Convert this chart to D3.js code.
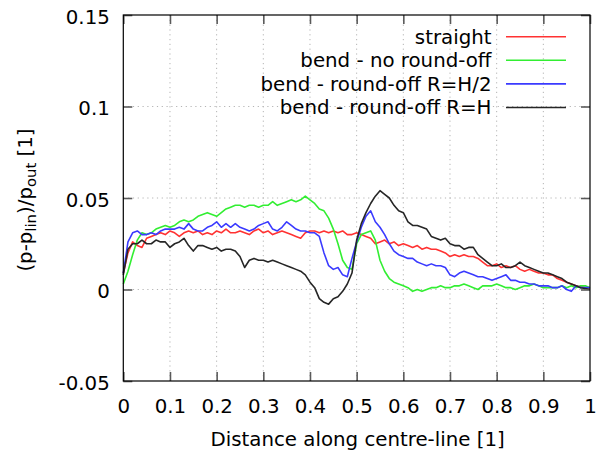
<!DOCTYPE html>
<html>
<head>
<meta charset="utf-8">
<script src="https://cdn.jsdelivr.net/npm/d3@7"></script>
<style>
  html, body { margin: 0; padding: 0; background: #fff; }
  svg { display: block; font-family: "DejaVu Sans", Verdana, sans-serif; }
</style>
</head>
<body>
<svg id="chart" width="603" height="453"></svg>
<script>
// Distance along centre-line, sampled every 0.01
const distance = d3.range(0, 101).map(i => i / 100);

const xTicks = [0, 0.1, 0.2, 0.3, 0.4, 0.5, 0.6, 0.7, 0.8, 0.9, 1];
const xTickLabels = ["0", "0.1", "0.2", "0.3", "0.4", "0.5", "0.6", "0.7", "0.8", "0.9", "1"];
const yTicks = [-0.05, 0, 0.05, 0.1, 0.15];
const yTickLabels = ["-0.05", "0", "0.05", "0.1", "0.15"];

const seriesNames = ["straight", "bend - no round-off", "bend - round-off R=H/2", "bend - round-off R=H"];
const seriesColors = ["#ff3232", "#32ee32", "#3a3aff", "#262626"];

const straight = [
  0.009, 0.020, 0.026, 0.024, 0.023, 0.028, 0.029, 0.030, 0.031, 0.030,
  0.032, 0.031, 0.029, 0.031, 0.032, 0.031, 0.032, 0.030, 0.031, 0.030,
  0.032, 0.031, 0.033, 0.031, 0.031, 0.032, 0.031, 0.030, 0.032, 0.033,
  0.031, 0.032, 0.030, 0.031, 0.032, 0.031, 0.030, 0.029, 0.028, 0.031,
  0.032, 0.032, 0.031, 0.032, 0.031, 0.032, 0.031, 0.032, 0.030, 0.030,
  0.031, 0.030, 0.029, 0.028, 0.025, 0.026, 0.027, 0.025, 0.026, 0.024,
  0.025, 0.024, 0.023, 0.024, 0.022, 0.023, 0.022, 0.022, 0.021, 0.020,
  0.018, 0.019, 0.018, 0.019, 0.018, 0.018, 0.017, 0.015, 0.013, 0.013,
  0.014, 0.012, 0.013, 0.012, 0.013, 0.011, 0.010, 0.011, 0.010, 0.009,
  0.009, 0.008, 0.008, 0.006, 0.005, 0.004, 0.003, 0.002, 0.0015, 0.001,
  0.001
];

const noRoundOff = [
  0.003, 0.010, 0.019, 0.027, 0.031, 0.030, 0.031, 0.033, 0.034, 0.035,
  0.034, 0.035, 0.037, 0.038, 0.037, 0.038, 0.040, 0.041, 0.042, 0.041,
  0.040, 0.042, 0.044, 0.045, 0.046, 0.046, 0.045, 0.046, 0.046, 0.045,
  0.046, 0.046, 0.048, 0.046, 0.047, 0.048, 0.049, 0.048, 0.049, 0.051,
  0.049, 0.047, 0.044, 0.043, 0.039, 0.033, 0.025, 0.016, 0.012, 0.011,
  0.025, 0.030, 0.031, 0.032, 0.027, 0.016, 0.010, 0.006, 0.004, 0.003,
  0.002, 0.001, -0.001, 0.000, -0.001, 0.000, 0.001, 0.001, 0.002, 0.001,
  0.001, 0.002, 0.002, 0.003, 0.002, 0.001, 0.000, 0.002, 0.002, 0.002,
  0.003, 0.002, 0.001, 0.001, 0.000, 0.001, 0.002, 0.002, 0.003, 0.002,
  0.001, 0.001, 0.001, 0.001, 0.002, 0.001, 0.002, 0.001, 0.002, 0.002,
  0.001
];

const roundOffHalf = [
  0.009, 0.026, 0.031, 0.032, 0.030, 0.030, 0.031, 0.030, 0.032, 0.033,
  0.033, 0.033, 0.034, 0.033, 0.036, 0.033, 0.032, 0.032, 0.034, 0.035,
  0.037, 0.034, 0.036, 0.034, 0.036, 0.034, 0.033, 0.032, 0.033, 0.035,
  0.036, 0.037, 0.033, 0.032, 0.034, 0.037, 0.035, 0.033, 0.032, 0.032,
  0.031, 0.031, 0.029, 0.020, 0.013, 0.011, 0.012, 0.008, 0.007, 0.017,
  0.026, 0.034, 0.040, 0.043, 0.037, 0.034, 0.030, 0.025, 0.021, 0.019,
  0.018, 0.017, 0.017, 0.015, 0.014, 0.013, 0.014, 0.013, 0.013, 0.012,
  0.008, 0.007, 0.009, 0.010, 0.009, 0.008, 0.007, 0.007, 0.006, 0.005,
  0.006, 0.007, 0.008, 0.005, 0.005, 0.004, 0.004, 0.003, 0.003, 0.002,
  0.002, 0.002, 0.001, 0.001, 0.002, 0.000, -0.001, 0.002, 0.001, 0.001,
  0.001
];

const roundOffFull = [
  0.008, 0.022, 0.025, 0.025, 0.027, 0.025, 0.025, 0.027, 0.026, 0.026,
  0.023, 0.025, 0.026, 0.028, 0.024, 0.021, 0.024, 0.024, 0.023, 0.022,
  0.023, 0.021, 0.022, 0.022, 0.021, 0.018, 0.012, 0.016, 0.017, 0.016,
  0.016, 0.015, 0.016, 0.015, 0.014, 0.013, 0.012, 0.011, 0.010, 0.008,
  0.004, 0.001, -0.005, -0.007, -0.008, -0.005, -0.004, -0.001, 0.003, 0.009,
  0.027, 0.036, 0.042, 0.047, 0.051, 0.054, 0.052, 0.050, 0.046, 0.043,
  0.042, 0.037, 0.035, 0.035, 0.034, 0.033, 0.029, 0.028, 0.027, 0.028,
  0.025, 0.024, 0.024, 0.022, 0.023, 0.023, 0.019, 0.017, 0.015, 0.013,
  0.013, 0.014, 0.012, 0.012, 0.013, 0.015, 0.013, 0.012, 0.011, 0.010,
  0.009, 0.009, 0.008, 0.007, 0.006, 0.004, 0.003, 0.002, 0.001, 0.0005,
  0.000
];

const seriesValues = [straight, noRoundOff, roundOffHalf, roundOffFull];

const svg = d3.select("#chart");
const plotLeft = 123.3, plotRight = 590, plotTop = 15, plotBottom = 381;
const fontSize = 19.8;

const x = d3.scaleLinear().domain([0, 1]).range([plotLeft, plotRight]);
const y = d3.scaleLinear().domain([-0.05, 0.15]).range([plotBottom, plotTop]);

// dotted grid
const grid = svg.append("g").attr("stroke", "#b4b4b4").attr("stroke-width", 1)
  .attr("stroke-dasharray", "1.2,3.6");
xTicks.filter(t => t > 0 && t < 1).forEach(t => {
  grid.append("line").attr("x1", x(t)).attr("x2", x(t)).attr("y1", plotTop).attr("y2", plotBottom);
});
yTicks.filter(t => t > -0.05 && t < 0.15).forEach(t => {
  grid.append("line").attr("x1", plotLeft).attr("x2", plotRight).attr("y1", y(t)).attr("y2", y(t));
});

// data curves
const line = d3.line().x((d, i) => x(distance[i])).y(d => y(d));
seriesValues.forEach((vals, k) => {
  svg.append("path").datum(vals)
    .attr("d", line)
    .attr("fill", "none")
    .attr("stroke", seriesColors[k])
    .attr("stroke-width", 1.6)
    .attr("stroke-linejoin", "round");
});

// axes: inward ticks on all four sides
const tickLen = 9;
function styleAxis(g) {
  g.select(".domain").remove();
  g.selectAll(".tick line").attr("stroke", "#5a5a5a").attr("stroke-width", 1.6);
  g.selectAll("text").attr("fill", "#000").attr("font-size", fontSize)
    .attr("font-family", "DejaVu Sans, Verdana, sans-serif");
}

const xAxis = svg.append("g").attr("transform", `translate(0,${plotBottom})`)
  .call(d3.axisBottom(x).tickValues(xTicks).tickFormat((d, i) => xTickLabels[i])
    .tickSize(-tickLen).tickPadding(18));
styleAxis(xAxis);
xAxis.selectAll("text").attr("y", 31.5).attr("dy", null);

svg.append("g").attr("transform", `translate(0,${plotTop})`)
  .call(d3.axisTop(x).tickValues(xTicks).tickFormat("").tickSize(-tickLen))
  .call(styleAxis);

const yAxis = svg.append("g").attr("transform", `translate(${plotLeft},0)`)
  .call(d3.axisLeft(y).tickValues(yTicks).tickFormat((d, i) => yTickLabels[i])
    .tickSize(-tickLen).tickPadding(13));
styleAxis(yAxis);
yAxis.selectAll("text").attr("x", -13.5).attr("dy", "0.42em");

svg.append("g").attr("transform", `translate(${plotRight},0)`)
  .call(d3.axisRight(y).tickValues(yTicks).tickFormat("").tickSize(-tickLen))
  .call(styleAxis);

// frame
svg.append("rect").attr("x", plotLeft).attr("y", plotTop)
  .attr("width", plotRight - plotLeft).attr("height", plotBottom - plotTop)
  .attr("fill", "none").attr("stroke", "#000").attr("stroke-width", 1.2);

// axis titles
svg.append("text")
  .attr("x", (plotLeft + plotRight) / 2 + 1).attr("y", 446)
  .attr("text-anchor", "middle").attr("font-size", fontSize)
  .text("Distance along centre-line [1]");

const yTitle = svg.append("text")
  .attr("transform", "translate(32,200) rotate(-90)")
  .attr("text-anchor", "middle").attr("font-size", fontSize);
yTitle.append("tspan").text("(p-p");
yTitle.append("tspan").attr("font-size", fontSize * 0.75).attr("dy", 4).text("lin");
yTitle.append("tspan").attr("dy", -4).text(")/p");
yTitle.append("tspan").attr("font-size", fontSize * 0.75).attr("dy", 4).text("out");
yTitle.append("tspan").attr("dy", -4).text(" [1]");

// legend
const legend = svg.append("g");
seriesNames.forEach((name, k) => {
  const ly = 36.7 + k * 23.6;
  legend.append("text").attr("x", 491.5).attr("y", ly + 6.8)
    .attr("text-anchor", "end").attr("font-size", fontSize).text(name);
  legend.append("line").attr("x1", 506).attr("x2", 566).attr("y1", ly).attr("y2", ly)
    .attr("stroke", seriesColors[k]).attr("stroke-width", 1.6);
});
</script>
</body>
</html>
